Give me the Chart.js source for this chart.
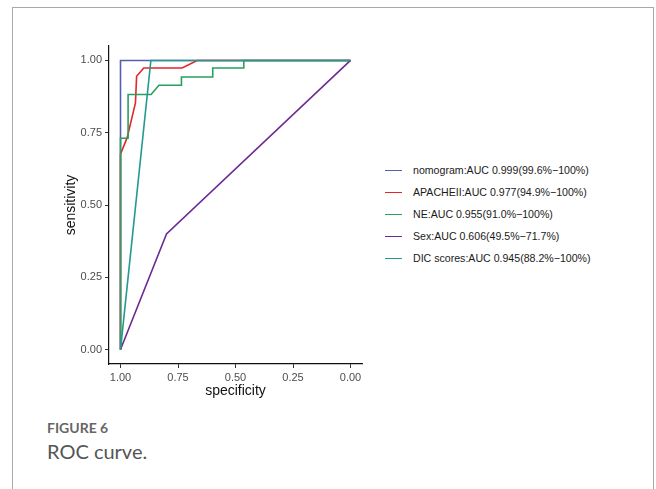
<!DOCTYPE html>
<html>
<head>
<meta charset="utf-8">
<script src="https://cdn.jsdelivr.net/npm/chart.js@4.4.0/dist/chart.umd.min.js"></script>
<style>
  body { margin:0; background:#fff; width:656px; height:489px; overflow:hidden; position:relative; }
  #frame { position:absolute; left:12px; top:7px; width:640px; height:520px; border:1.5px solid #a8a8a8; border-bottom:none; }
  #plot { position:absolute; left:40px; top:36px; width:332px; height:364px; }
  #legend { position:absolute; left:385px; top:159px; font-family:"Liberation Sans", Arial, sans-serif; font-size:10.6px; color:#1a1a1a; }
  .row { height:22px; display:flex; align-items:center; }
  .key { width:17px; height:0; border-top:1.6px solid; margin-right:11px; }
  #figno { position:absolute; left:47px; top:420px; font-family:Lato, sans-serif; font-weight:bold; font-size:14px; line-height:1.2; color:#666; }
  #cap { position:absolute; left:47px; top:439px; font-family:Lato, sans-serif; font-size:20px; line-height:1.2; color:#555; }
</style>
</head>
<body>
<div id="frame"></div>
<div id="plot"><canvas id="roc"></canvas></div>
<div id="legend"></div>
<div id="figno">FIGURE 6</div>
<div id="cap">ROC curve.</div>
<script>
// ROC curves: x = specificity (reversed axis), y = sensitivity
const seriesNames = ['nomogram', 'APACHEII', 'NE', 'Sex', 'DIC scores'];
const aucLabels = [
  'AUC 0.999(99.6%\u2212100%)',
  'AUC 0.977(94.9%\u2212100%)',
  'AUC 0.955(91.0%\u2212100%)',
  'AUC 0.606(49.5%\u221271.7%)',
  'AUC 0.945(88.2%\u2212100%)'
];
const seriesColors = ['#5560ad', '#e3262b', '#27a060', '#6c2a92', '#23998f'];

const nomogramSpec = [1, 1, 0];
const nomogramSens = [0, 1, 1];
const apacheSpec = [1, 1, 0.971, 0.935, 0.93, 0.899, 0.732, 0.667, 0];
const apacheSens = [0, 0.676, 0.733, 0.853, 0.945, 0.974, 0.974, 1, 1];
const neSpec = [1, 1, 0.967, 0.967, 0.867, 0.833, 0.735, 0.735, 0.599, 0.599, 0.464, 0.464, 0];
const neSens = [0, 0.731, 0.731, 0.882, 0.882, 0.914, 0.914, 0.943, 0.943, 0.974, 0.974, 1, 1];
const sexSpec = [1, 0.80, 0];
const sexSens = [0, 0.40, 1];
const dicSpec = [1, 0.868, 0];
const dicSens = [0, 1, 1];

const xTicks = [1, 0.75, 0.5, 0.25, 0];
const yTicks = [0, 0.25, 0.5, 0.75, 1];

const specs = [nomogramSpec, apacheSpec, neSpec, sexSpec, dicSpec];
const sens = [nomogramSens, apacheSens, neSens, sexSens, dicSens];

const datasets = seriesNames.map((name, i) => ({
  label: name,
  data: specs[i].map((x, j) => ({ x: x, y: sens[i][j] })),
  showLine: true,
  borderColor: seriesColors[i],
  borderWidth: 1.6,
  pointRadius: 0,
  fill: false,
  order: seriesNames.length - i
}));

// legend as html
const legend = document.getElementById('legend');
seriesNames.forEach((name, i) => {
  const row = document.createElement('div');
  row.className = 'row';
  row.innerHTML = '<span class="key" style="border-color:' + seriesColors[i] + '"></span><span>' + name + ':' + aucLabels[i] + '</span>';
  legend.appendChild(row);
});

const tickFont = { family: 'Liberation Sans', size: 11 };
const titleFont = { family: 'Liberation Sans', size: 14 };

new Chart(document.getElementById('roc'), {
  type: 'scatter',
  data: { datasets: datasets },
  options: {
    responsive: true,
    maintainAspectRatio: false,
    animation: false,
    layout: { padding: { top: 10, right: 10, left: 0, bottom: 0 } },
    plugins: { legend: { display: false }, tooltip: { enabled: false } },
    scales: {
      x: {
        type: 'linear',
        reverse: true,
        min: -0.05,
        max: 1.05,
        afterBuildTicks: s => { s.ticks = xTicks.map(v => ({ value: v })); },
        afterFit: s => { s.height = 36; },
        ticks: { font: tickFont, color: '#4d4d4d', padding: 3, maxRotation: 0, callback: v => Number(v).toFixed(2) },
        grid: { drawOnChartArea: false, tickLength: 4, color: '#333' },
        border: { display: true, color: '#111', width: 1.2 },
        title: { display: true, text: 'specificity', font: titleFont, color: '#111', padding: { top: 0, bottom: 0 } }
      },
      y: {
        type: 'linear',
        min: -0.05,
        max: 1.05,
        afterBuildTicks: s => { s.ticks = yTicks.map(v => ({ value: v })); },
        afterFit: s => { s.width = 69; },
        ticks: { font: tickFont, color: '#4d4d4d', padding: 3, callback: v => Number(v).toFixed(2) },
        grid: { drawOnChartArea: false, tickLength: 4, color: '#333' },
        border: { display: true, color: '#111', width: 1.2 },
        title: { display: true, text: 'sensitivity', font: titleFont, color: '#111', padding: { top: 23, bottom: 4 } }
      }
    }
  }
});
</script>
</body>
</html>
